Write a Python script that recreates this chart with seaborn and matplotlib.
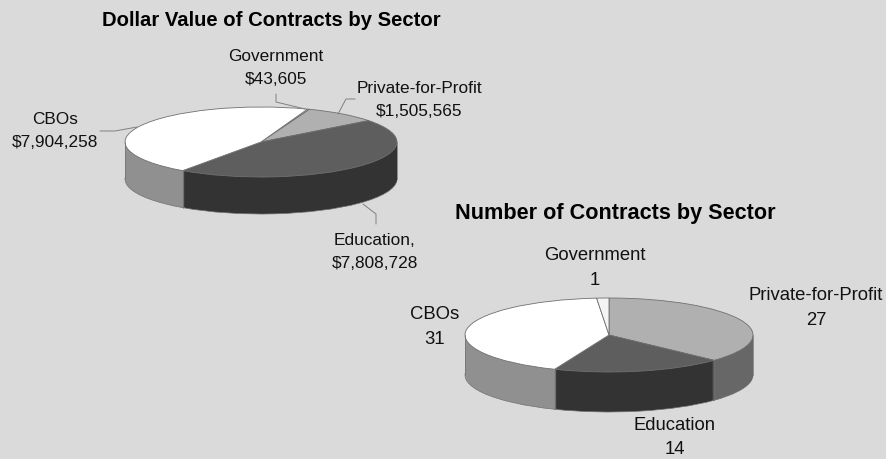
import numpy as np
import matplotlib
matplotlib.use("Agg")
import matplotlib.pyplot as plt
import seaborn as sns

# Sector values for each chart, in clockwise slice order
value_sectors = ["Government", "Private-for-Profit", "Education", "CBOs"]
value_dollars = [43605, 1505565, 7808728, 7904258]
count_sectors = ["Private-for-Profit", "Education", "CBOs", "Government"]
count_contracts = [27, 14, 31, 1]

top_shades = {"Government": "#F4F4F4", "Private-for-Profit": "#B0B0B0",
              "Education": "#5E5E5E", "CBOs": "#FFFFFF"}
side_shades = {"Government": "#C4C4C4", "Private-for-Profit": "#676767",
               "Education": "#333333", "CBOs": "#909090"}

W, H = 886, 459
BG = "#DADADA"
EDGE = "#707070"

sns.set_theme(style="white")
plt.rcParams["font.family"] = ["Liberation Sans", "DejaVu Sans"]

fig = plt.figure(figsize=(W / 100, H / 100), dpi=100, facecolor=BG)


def disc(sectors, values, start, cx, cy, rx, ry, depth):
    """Draw a flattened pie with an extruded rim; geometry is in pixels."""
    pad = 4
    left, right = cx - rx - pad, cx + rx + pad
    top, bottom = cy - ry - pad, cy + ry + depth + pad
    ax = fig.add_axes([left / W, 1 - bottom / H, (right - left) / W, (bottom - top) / H])
    ax.patch.set_alpha(0)
    tops = [top_shades[s] for s in sectors]
    sides = [side_shades[s] for s in sectors]
    unit = 1 / ry

    # Rim: a stack of identical pies, one per pixel of depth
    for k in range(depth, 0, -1):
        edge = {"linewidth": 0.5, "edgecolor": EDGE} if k == depth else {"linewidth": 0}
        ax.pie(values, colors=sides, startangle=start, counterclock=False,
               center=(0, -k * unit), radius=1, wedgeprops=edge, normalize=True)

    wedges, _ = ax.pie(values, colors=tops, startangle=start, counterclock=False,
                       center=(0, 0), radius=1,
                       wedgeprops={"linewidth": 0.6, "edgecolor": EDGE})

    # Vertical seams on the front of the rim
    for w in wedges:
        a = np.deg2rad(w.theta1)
        if np.sin(a) < 0:
            x, y = np.cos(a), np.sin(a)
            ax.plot([x, x], [y, y - depth * unit], color=EDGE, lw=0.5)
    for x in (-1, 1):
        ax.plot([x, x], [0, -depth * unit], color=EDGE, lw=0.5)

    ax.set_xlim(-1 - pad * 1 / rx, 1 + pad * 1 / rx)
    ax.set_ylim(-(ry + depth + pad) * unit, (ry + pad) * unit)
    ax.set_aspect("auto")
    ax.set_axis_off()


disc(value_sectors, value_dollars, 70, 261, 142, 136, 35, 37)
disc(count_sectors, count_contracts, 90, 609, 335, 144, 37, 40)

# Overlay in pixel coordinates for titles, labels and leader lines
overlay = fig.add_axes([0, 0, 1, 1])
overlay.set_xlim(0, W)
overlay.set_ylim(H, 0)
overlay.set_axis_off()
overlay.patch.set_alpha(0)

dollars = dict(zip(value_sectors, value_dollars))
counts = dict(zip(count_sectors, count_contracts))

overlay.text(271.5, 20, "Dollar Value of Contracts by Sector", fontsize=14.6,
             fontweight="bold", ha="center", va="center", color="black")
overlay.text(615.5, 214, "Number of Contracts by Sector", fontsize=15.6,
             fontweight="bold", ha="center", va="center", color="black")

small = dict(fontsize=12.4, ha="center", va="center", color="#111111", linespacing=1.74)
large = dict(fontsize=13.3, ha="center", va="center", color="#111111", linespacing=1.6)
for text, x, y in [
    (f"Government\n${dollars['Government']:,}", 276, 68),
    (f"Private-for-Profit\n${dollars['Private-for-Profit']:,}", 419, 100),
    (f"CBOs\n${dollars['CBOs']:,}", 55, 131),
    (f"Education,\n${dollars['Education']:,}", 375, 252),
]:
    overlay.text(x, y, text, **small)
for text, x, y in [
    (f"Government\n{counts['Government']}", 595, 268),
    (f"Private-for-Profit\n{counts['Private-for-Profit']}", 816, 308),
    (f"CBOs\n{counts['CBOs']}", 435, 327),
    (f"Education\n{counts['Education']}", 675, 437.5),
]:
    overlay.text(x, y, text, **large)

for xs, ys in [
    ([276, 276, 305], [94, 102, 109]),
    ([355, 346, 338], [99, 99, 114]),
    ([100, 115, 137], [131, 131, 127]),
    ([376, 376, 363], [224, 214, 204]),
]:
    overlay.plot(xs, ys, color="#808080", lw=0.7)

fig.savefig("out.png", dpi=100, facecolor=BG)
